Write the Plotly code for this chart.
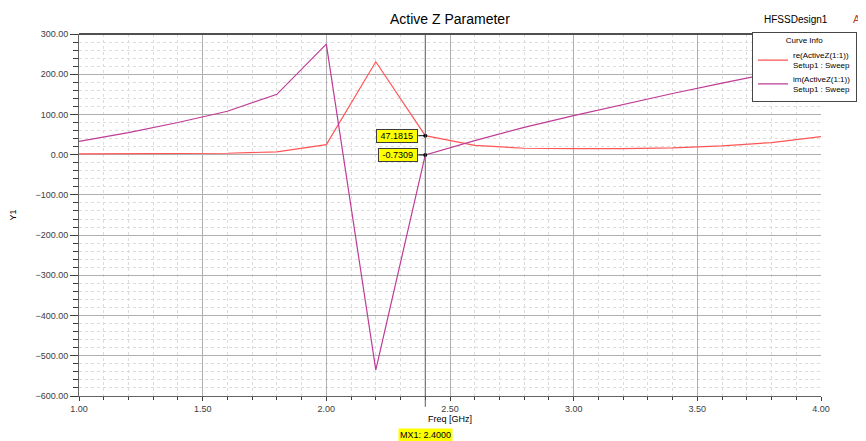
import plotly.graph_objects as go

freq = [1.0, 1.2, 1.4, 1.6, 1.8, 2.0, 2.2, 2.4, 2.6, 2.8, 3.0, 3.2, 3.4, 3.6, 3.8, 4.0]
re_z = [2.0, 2.5, 3.0, 3.5, 7.0, 25.0, 231.0, 47.1815, 23.0, 16.0, 15.0, 15.0, 17.0, 22.0, 30.0, 45.0]
im_z = [33.0, 55.0, 80.0, 108.0, 150.0, 275.0, -535.0, -0.7309, 35.0, 68.0, 97.0, 125.0, 152.0, 178.0, 203.0, 228.0]
marker_freq = 2.4
y_ticks = [300, 200, 100, 0, -100, -200, -300, -400, -500, -600]
x_ticks = [1.0, 1.5, 2.0, 2.5, 3.0, 3.5, 4.0]

RE_COLOR = "rgb(255,85,85)"
IM_COLOR = "rgb(190,60,150)"
FONT = "Liberation Sans, Arial, sans-serif"

fig = go.Figure()
fig.add_trace(go.Scatter(x=freq, y=re_z, mode="lines",
                         name="re(ActiveZ(1:1))<br>Setup1 : Sweep",
                         line=dict(color=RE_COLOR, width=1.2)))
fig.add_trace(go.Scatter(x=freq, y=im_z, mode="lines",
                         name="im(ActiveZ(1:1))<br>Setup1 : Sweep",
                         line=dict(color=IM_COLOR, width=1.2)))

# marker line
fig.add_shape(type="line", xref="x", yref="paper", x0=marker_freq, x1=marker_freq,
              y0=-0.03, y1=1, line=dict(color="rgb(90,90,90)", width=1))

idx = freq.index(marker_freq)
for val in (re_z[idx], im_z[idx]):
    fig.add_annotation(x=marker_freq, y=val, xref="x", yref="y",
                       text="&nbsp;%.4f&nbsp;" % val, showarrow=True, arrowhead=0,
                       arrowwidth=1, arrowcolor="black", ax=-7, ay=0,
                       xanchor="right", bgcolor="rgb(255,255,0)",
                       bordercolor="rgb(60,60,60)", borderwidth=1, borderpad=1,
                       font=dict(family=FONT, size=9, color="black"))
    fig.add_trace(go.Scatter(x=[marker_freq], y=[val], mode="markers",
                             marker=dict(color="black", size=4), showlegend=False,
                             hoverinfo="skip"))

fig.add_annotation(x=marker_freq, y=-0.088, xref="x", yref="paper",
                   text="MX1: %.4f" % marker_freq, showarrow=False,
                   bgcolor="rgb(255,255,0)", yanchor="top",
                   font=dict(family=FONT, size=9, color="black"))

fig.add_annotation(x=0.5, y=1.015, xref="paper", yref="paper", text="Active Z Parameter",
                   showarrow=False, yanchor="bottom",
                   font=dict(family=FONT, size=14, color="black"))
fig.add_annotation(x=0.92, y=1.02, xref="paper", yref="paper", text="HFSSDesign1",
                   showarrow=False, yanchor="bottom", xanchor="left",
                   font=dict(family=FONT, size=10, color="black"))
fig.add_annotation(x=1.04, y=1.02, xref="paper", yref="paper", text="A",
                   showarrow=False, yanchor="bottom", xanchor="left",
                   font=dict(family=FONT, size=11, color="rgb(200,60,40)"))

# page body has an 8px margin: shrink the figure so the plot area lands where the reference has it
fig.update_layout(
    width=858, height=433,
    margin=dict(l=71, r=45, t=26, b=45, autoexpand=False),
    paper_bgcolor="white", plot_bgcolor="white",
    font=dict(family=FONT, size=9, color="rgb(60,60,60)"),
    showlegend=True,
    legend=dict(x=0.907, y=1.006, xanchor="left", yanchor="top",
                bgcolor="white", bordercolor="rgb(70,70,70)", borderwidth=1,
                font=dict(family=FONT, size=8, color="black"),
                title=dict(text="Curve Info", side="top center",
                           font=dict(family=FONT, size=8, color="black")),
                tracegroupgap=0, itemwidth=30),
    xaxis=dict(range=[1, 4], tickvals=x_ticks, tickformat=".2f", automargin=False,
               showgrid=True, gridcolor="rgb(175,175,175)", gridwidth=1,
               showline=True, linecolor="rgb(100,100,100)", linewidth=1,
               ticks="outside", ticklen=4, tickcolor="rgb(60,60,60)",
               zeroline=False, mirror=False,
               title=dict(text="Freq [GHz]", standoff=2, font=dict(size=9, color="black")),
               minor=dict(dtick=0.1, showgrid=True, gridcolor="rgb(220,220,220)",
                          griddash="3px,3px", ticks="outside", ticklen=3,
                          tickcolor="rgb(60,60,60)")),
    yaxis=dict(range=[-600, 300], tickvals=y_ticks, tickformat=".2f", automargin=False,
               showgrid=True, gridcolor="rgb(175,175,175)", gridwidth=1,
               showline=True, linecolor="rgb(100,100,100)", linewidth=1,
               ticks="outside", ticklen=8, tickcolor="rgb(60,60,60)",
               zeroline=False,
               title=dict(text="Y1", standoff=22, font=dict(size=9, color="black")),
               minor=dict(dtick=20, showgrid=True, gridcolor="rgb(220,220,220)",
                          griddash="3px,3px", ticks="outside", ticklen=5,
                          tickcolor="rgb(60,60,60)")),
)

# top border
fig.add_shape(type="line", xref="paper", yref="paper", x0=0, x1=1, y0=1, y1=1,
              line=dict(color="rgb(80,80,80)", width=2))

fig.write_html("out.html")
